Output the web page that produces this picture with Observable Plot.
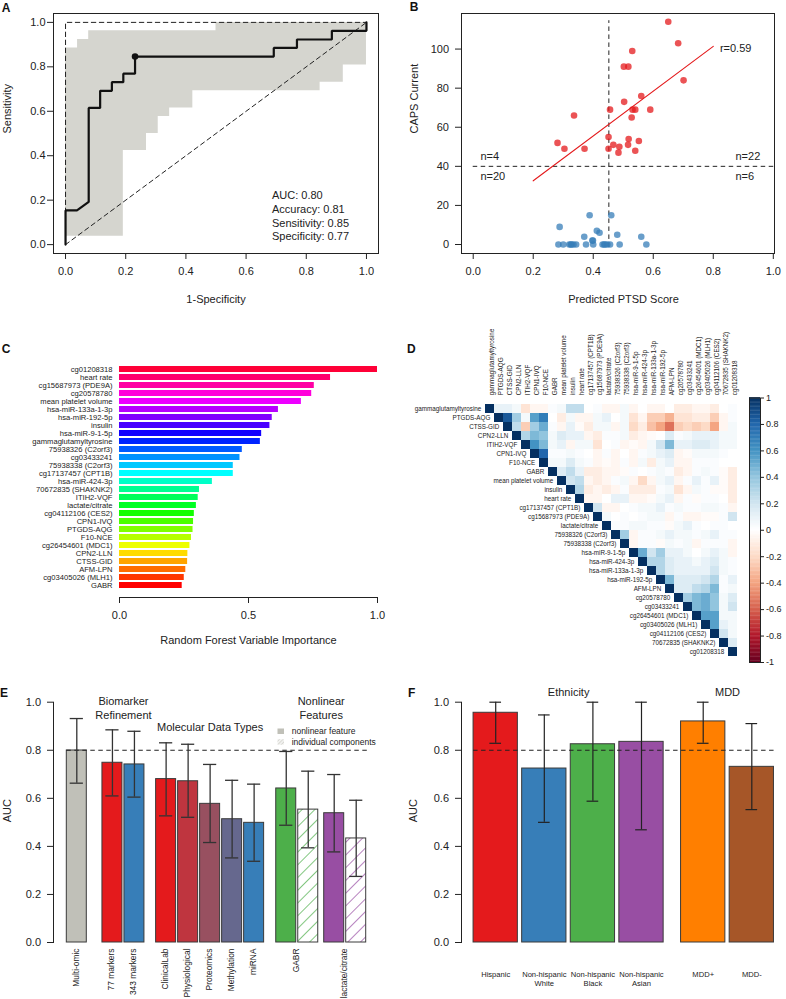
<!DOCTYPE html>
<html><head><meta charset="utf-8">
<script src="https://cdn.jsdelivr.net/npm/d3@7"></script>
<script src="https://cdn.jsdelivr.net/npm/@observablehq/plot@0.6"></script>
<style>
body{margin:0;background:#fff;}
#root{position:relative;width:786px;height:999px;overflow:hidden;background:#fff;}
</style></head><body><div id="root"></div>
<script>
// ---------------- DATA ----------------
// Panel A: ROC
const rocFpr = [0,0,0.038,0.077,0.077,0.115,0.115,0.154,0.154,0.192,0.192,0.231,0.231,0.692,0.692,0.769,0.769,0.885,0.885,1,1];
const rocTpr = [0,0.154,0.154,0.192,0.615,0.615,0.692,0.692,0.731,0.731,0.769,0.769,0.846,0.846,0.885,0.885,0.923,0.923,0.962,0.962,1];
const ciFpr  = [0,0.04,0.077,0.192,0.269,0.308,0.346,0.423,0.5,0.846,0.923,1];
const ciLow  = [0.038,0.038,0.038,0.423,0.5,0.577,0.615,0.692,0.692,0.731,0.808,0.808];
const ciHigh = [0.885,0.923,0.962,0.962,0.962,0.962,0.962,0.962,1,1,1,1];
const bestPoint = {fpr: 0.231, tpr: 0.846};
const idealX = [0,0,1], idealY = [0,1,1];
const chanceX = [0,1], chanceY = [0,1];
const rocStats = ["AUC: 0.80","Accuracy: 0.81","Sensitivity: 0.85","Specificity: 0.77"];

// Panel B: scatter
const redX = [0.65,0.683,0.53,0.502,0.517,0.701,0.56,0.503,0.456,0.531,0.54,0.59,0.336,0.528,0.451,0.518,0.552,0.281,0.467,0.516,0.487,0.304,0.371,0.451,0.484,0.54];
const redY = [114,103,99,91,91,84,76,73,69,69,69,69,66,65,55,54,53,52,51,51,50,49,49,49,47,48];
const blueX = [0.388,0.46,0.288,0.412,0.421,0.48,0.37,0.56,0.397,0.399,0.284,0.3,0.32,0.325,0.328,0.334,0.343,0.376,0.4,0.431,0.436,0.44,0.447,0.456,0.488,0.577];
const blueY = [15,15,9,7,6,5,4,4,2,2,0,0,0,0,0,0,0,0,0,0,0,0,0,0,0,0];
const fitX = [0.2,0.8], fitY = [32.6,101.4];
const scoreCut = 0.452, capsCut = 40;
const quadrantLabels = ["n=4","n=20","n=22","n=6"];

// Panel C: variable importance
const impNames = ["cg01208318","heart rate","cg15687973 (PDE9A)","cg20578780","mean platelet volume","hsa-miR-133a-1-3p","hsa-miR-192-5p","insulin","hsa-miR-9-1-5p","gammaglutamyltyrosine","75938326 (C2orf3)","cg03433241","75938338 (C2orf3)","cg17137457 (CPT1B)","hsa-miR-424-3p","70672835 (SHAKNK2)","ITIH2-VQF","lactate/citrate","cg04112106 (CES2)","CPN1-IVQ","PTGDS-AQG","F10-NCE","cg26454601 (MDC1)","CPN2-LLN","CTSS-GID","AFM-LPN","cg03405026 (MLH1)","GABR"];
const impValues = [1.0,0.818,0.755,0.745,0.705,0.616,0.592,0.583,0.551,0.546,0.476,0.467,0.441,0.441,0.36,0.31,0.305,0.298,0.29,0.287,0.285,0.279,0.273,0.265,0.264,0.257,0.251,0.243];

// Panel D: correlation matrix (upper triangle, row i -> columns i+1..)
const corrVars = ["gammaglutamyltyrosine","PTGDS-AQG","CTSS-GID","CPN2-LLN","ITIH2-VQF","CPN1-IVQ","F10-NCE","GABR","mean platelet volume","insulin","heart rate","cg17137457 (CPT1B)","cg15687973 (PDE9A)","lactate/citrate","75938326 (C2orf3)","75938338 (C2orf3)","hsa-miR-9-1-5p","hsa-miR-424-3p","hsa-miR-133a-1-3p","hsa-miR-192-5p","AFM-LPN","cg20578780","cg03433241","cg26454601 (MDC1)","cg03405026 (MLH1)","cg04112106 (CES2)","70672835 (SHAKNK2)","cg01208318"];
const corrUpper = [
 [0.1,0.1,0.05,-0.15,-0.05,-0.05,0.02,0.05,0.25,0.25,0,0.02,-0.05,-0.05,0.05,-0.05,0,-0.05,-0.05,0,-0.1,-0.1,-0.05,-0.05,-0.1,0,0.02],
 [0.85,0.35,0.05,0.55,0.7,0,-0.1,0.05,-0.05,-0.05,0.05,0.1,0,0.05,-0.15,-0.05,-0.25,-0.25,-0.35,-0.15,-0.15,-0.1,-0.1,-0.25,-0.05,0.02],
 [0.25,-0.25,0.35,0.5,0.02,-0.05,0.1,-0.02,-0.1,0.05,0.05,-0.05,0.05,-0.2,-0.1,-0.3,-0.4,-0.55,-0.25,-0.2,-0.25,-0.2,-0.4,-0.05,0.05],
 [0.3,0.45,0.4,0.05,0.15,0.1,0.1,-0.05,-0.1,0.02,0.02,0.05,-0.1,-0.05,-0.02,0,0.15,0.02,0.05,0.1,0.1,0.1,0.05,0.05],
 [0.6,0.45,0.05,0.1,-0.05,0.05,0.05,-0.15,0,0.02,-0.05,-0.02,-0.05,0.05,0.2,0.45,0.1,0.1,0.15,0.15,0.1,0.05,0.05],
 [0.8,0.02,0.02,0.05,0.02,0,-0.05,0.02,-0.05,0,-0.05,0.02,0.05,0.1,0.15,-0.05,-0.02,0.05,0.05,0.05,0.02,0],
 [0.05,0.05,0.15,0.05,0.02,-0.05,-0.02,-0.05,0.02,-0.05,0.05,-0.1,0.05,0.1,-0.05,-0.05,0.02,0.02,0.02,0,0],
 [0.15,0.25,0.1,-0.1,-0.1,-0.05,-0.05,-0.02,0.02,0,0.02,0.05,0.02,-0.1,-0.05,0.02,0.05,0.02,-0.02,-0.1],
 [0.2,0.25,-0.05,-0.1,-0.05,0.02,0.05,-0.05,-0.2,-0.05,0.05,0.1,-0.05,0.02,0.1,0.02,0.1,-0.02,-0.1],
 [0.3,-0.1,-0.05,-0.1,-0.05,0.02,-0.1,-0.1,-0.1,0.02,0.05,-0.15,-0.05,0.05,0.02,-0.02,-0.02,-0.1],
 [-0.05,-0.05,0,0.1,0.1,-0.05,-0.05,-0.02,0.05,0.1,-0.05,0.02,-0.02,0.02,0.02,0,-0.1],
 [0.2,-0.05,-0.05,0,0.02,0.05,0.05,0.1,0.02,0.05,0.02,0.02,0.05,0.05,0.02,-0.05],
 [0.05,0,0.02,0,0.02,0.05,0.05,-0.05,0.02,-0.05,-0.05,-0.02,-0.02,0.02,0.2],
 [0.02,0.02,0.05,0.05,0.02,0.02,-0.02,0.05,0.1,0.02,0,0.02,0.02,0],
 [0.35,-0.05,0.02,0.02,0.05,0.1,0.05,0.05,0.02,0.05,0.1,0.02,0.02],
 [-0.05,0.02,0.02,-0.02,0.05,0.02,0.05,-0.05,0.02,0.02,0.02,-0.05],
 [0.5,0.2,0.35,0.1,0.1,0.05,0,0.05,0.1,0.05,-0.05],
 [0.3,0.3,0.15,0.1,0.1,0.05,0.1,0.15,0.05,0.02],
 [0.3,0.15,0.1,0.1,0.1,0.1,0.2,0.05,0.02],
 [0.45,0.15,0.15,0.15,0.2,0.3,0.02,0.1],
 [0.15,0.15,0.25,0.3,0.45,0.02,0.05],
 [0.35,0.45,0.5,0.4,0.05,0.15],
 [0.45,0.5,0.4,0.05,0.2],
 [0.55,0.55,0.05,0.05],
 [0.55,0.1,0.05],
 [0.2,0.05],
 [0.15]
];
const corrTicks = [-1,-0.8,-0.6,-0.4,-0.2,0,0.2,0.4,0.6,0.8,1];
const corrPalette = ["#67001F","#B2182B","#D6604D","#F4A582","#FDDBC7","#FFFFFF","#D1E5F0","#92C5DE","#4393C3","#2166AC","#053061"];

// Panel E
const eNames = ["Multi-omic","77 markers","343 markers","ClinicalLab","Physiological","Proteomics","Methylation","miRNA","GABR","GABR components","lactate/citrate","lactate/citrate components"];
const eAUC  = [0.799,0.748,0.741,0.680,0.671,0.577,0.513,0.498,0.641,0.553,0.538,0.433];
const eLow  = [0.663,0.610,0.605,0.527,0.521,0.416,0.352,0.338,0.488,0.394,0.377,0.275];
const eHigh = [0.932,0.885,0.879,0.831,0.825,0.741,0.675,0.659,0.795,0.713,0.699,0.592];
const eGroup = [0,1,1,2,2,2,2,2,3,3,4,4];
const eHatched = [false,false,false,false,false,false,false,false,false,true,false,true];
const eTickLabels = ["Multi-omic","77 markers","343 markers","ClinicalLab","Physiological","Proteomics","Methylation","miRNA","GABR","lactate/citrate"];
const eTickBars = [[0],[1],[2],[3],[4],[5],[6],[7],[8,9],[10,11]];
const eHeaders = [["Biomarker","Refinement"],["Molecular Data Types"],["Nonlinear","Features"]];
const eHeaderBars = [[1,2],[3,4,5,6,7],[8,9,10,11]];
const eLegend = ["nonlinear feature","individual components"];
const refAUC = 0.8;

// Panel F
const fNames = ["Hispanic","Non-hispanic\nWhite","Non-hispanic\nBlack","Non-hispanic\nAsian","MDD+","MDD-"];
const fAUC  = [0.956,0.724,0.825,0.835,0.920,0.731];
const fLow  = [0.829,0.500,0.588,0.469,0.829,0.553];
const fHigh = [1.0,0.947,1.0,1.0,1.0,0.911];
const fGroup = [0,0,0,0,1,1];
const fHeaders = ["Ethnicity","MDD"];
const fHeaderBars = [[0,1,2,3],[4,5]];
const axisTicks01 = [0,0.2,0.4,0.6,0.8,1];

// ---------------- STYLE / LAYOUT ----------------
const FONT = '"Liberation Sans", Arial, Helvetica, sans-serif';
const INK = "#222";
const root = document.getElementById("root");
const baseStyle = {background: "transparent", fontFamily: FONT, fontSize: "11px", color: INK, overflow: "visible"};
const f1 = d3.format(".1f");
function place(svg, left, top) {
  svg.style.position = "absolute";
  svg.style.left = left + "px";
  svg.style.top = top + "px";
  svg.style.maxWidth = "none";
  root.appendChild(svg);
}
const dash = "4.5,3.5";

// ---------------- PANEL A ----------------
const rocTable = rocFpr.map((x, i) => ({x, y: rocTpr[i]}));
const ciTable = ciFpr.map((x, i) => ({x, lo: ciLow[i], hi: ciHigh[i]}));
const idealTable = idealX.map((x, i) => ({x, y: idealY[i]}));
const chanceTable = chanceX.map((x, i) => ({x, y: chanceY[i]}));
const plotA = Plot.plot({
  width: 393, height: 320, marginLeft: 53, marginRight: 15, marginTop: 13, marginBottom: 67,
  x: {domain: [-0.04, 1.04]}, y: {domain: [-0.04, 1.04]},
  style: baseStyle,
  marks: [
    Plot.areaY(ciTable, {x: "x", y1: "lo", y2: "hi", curve: "step-after", fill: "#D5D5CF"}),
    Plot.line(idealTable, {x: "x", y: "y", stroke: INK, strokeWidth: 1, strokeDasharray: dash}),
    Plot.line(chanceTable, {x: "x", y: "y", stroke: INK, strokeWidth: 1, strokeDasharray: dash}),
    Plot.line(rocTable, {x: "x", y: "y", stroke: "#111", strokeWidth: 2.2, strokeLinejoin: "miter"}),
    Plot.dot([bestPoint], {x: "fpr", y: "tpr", r: 3.3, fill: "#111", stroke: null}),
    Plot.text([rocStats.join("\n")], {x: 0.686, y: 0.133, textAnchor: "start", lineAnchor: "middle", lineHeight: 1.27, fontSize: 11, fill: INK}),
    Plot.frame({stroke: INK}),
    Plot.axisX({ticks: axisTicks01, tickFormat: f1, tickSize: 6, tickPadding: 8, label: null}),
    Plot.axisY({ticks: axisTicks01, tickFormat: f1, tickSize: 6, tickPadding: 2, label: null}),
    Plot.text(["1-Specificity"], {frameAnchor: "bottom", dy: 49, fontSize: 11, fill: INK}),
    Plot.text(["Sensitivity"], {frameAnchor: "left", dx: -46, rotate: -90, fontSize: 11, fill: INK})
  ]
});
place(plotA, 0, 0);

// ---------------- PANEL B ----------------
const redTable = redX.map((x, i) => ({x, y: redY[i]}));
const blueTable = blueX.map((x, i) => ({x, y: blueY[i]}));
const fitTable = fitX.map((x, i) => ({x, y: fitY[i]}));
const plotB = Plot.plot({
  width: 393, height: 320, marginLeft: 68, marginRight: 12, marginTop: 13, marginBottom: 67,
  x: {domain: [-0.039, 1.004]}, y: {domain: [-4.6, 118.2]},
  style: baseStyle,
  marks: [
    Plot.ruleY([capsCut], {x1: 0, x2: 1.004, stroke: INK, strokeDasharray: dash}),
    Plot.ruleX([scoreCut], {y1: -1.5, y2: 114.5, stroke: INK, strokeDasharray: dash}),
    Plot.dot(blueTable, {x: "x", y: "y", r: 3.3, fill: "#377EB8", fillOpacity: 0.75, stroke: null}),
    Plot.dot(redTable, {x: "x", y: "y", r: 3.3, fill: "#E41A1C", fillOpacity: 0.75, stroke: null}),
    Plot.line(fitTable, {x: "x", y: "y", stroke: "#E41A1C", strokeWidth: 1.1}),
    Plot.text(["r=0.59"], {x: 0.822, y: 100.5, textAnchor: "start", fill: INK}),
    Plot.text([quadrantLabels[0]], {x: 0.024, y: 45, textAnchor: "start", fill: INK}),
    Plot.text([quadrantLabels[1]], {x: 0.024, y: 34.9, textAnchor: "start", fill: INK}),
    Plot.text([quadrantLabels[2]], {x: 0.874, y: 45, textAnchor: "start", fill: INK}),
    Plot.text([quadrantLabels[3]], {x: 0.874, y: 34.9, textAnchor: "start", fill: INK}),
    Plot.frame({stroke: INK}),
    Plot.axisX({ticks: axisTicks01, tickFormat: f1, tickSize: 6, tickPadding: 8, label: null}),
    Plot.axisY({ticks: [0,20,40,60,80,100], tickSize: 6, tickPadding: 6.5, label: null}),
    Plot.text(["Predicted PTSD Score"], {frameAnchor: "bottom", dy: 49, dx: 5.5, fontSize: 11, fill: INK}),
    Plot.text(["CAPS Current"], {frameAnchor: "left", dx: -47.3, rotate: -90, fontSize: 11, fill: INK})
  ]
});
place(plotB, 393, 0);

// ---------------- PANEL C ----------------
const nImp = impNames.length;
const impTable = impNames.map((name, i) => ({name, v: impValues[i], color: d3.hsl(((nImp - 1 - i) / nImp) * 360, 1, 0.5).formatHex()}));
const plotC = Plot.plot({
  width: 393, height: 310, marginLeft: 119, marginRight: 16, marginTop: 35, marginBottom: 43,
  x: {domain: [0, 1]},
  y: {domain: impNames, range: [35, 259], paddingInner: 0.27, paddingOuter: 0.135},
  color: {type: "identity"},
  style: baseStyle,
  marks: [
    Plot.barX(impTable, {x: "v", y: "name", fill: "color"}),
    Plot.frame({anchor: "bottom", stroke: INK}),
    Plot.axisX({ticks: [0, 0.5, 1], tickFormat: f1, tickSize: 6, tickPadding: 8, label: null}),
    Plot.axisY({tickSize: 0, tickPadding: 7, fontSize: 7.6, label: null}),
    Plot.text(["Random Forest Variable Importance"], {frameAnchor: "bottom", dy: 46, fontSize: 11, fill: INK})
  ]
});
place(plotC, 0, 330);

// ---------------- PANEL D ----------------
const cells = [];
corrVars.forEach((rv, i) => {
  cells.push({row: rv, col: rv, v: 1});
  if (i < corrUpper.length) corrUpper[i].forEach((v, k) => cells.push({row: rv, col: corrVars[i + 1 + k], v}));
});
const corrColor = {type: "linear", domain: corrTicks, range: corrPalette, interpolate: "rgb"};
const plotD = Plot.plot({
  width: 393, height: 340, marginLeft: 86, marginRight: 43, marginTop: 67.7, marginBottom: 8.3,
  x: {domain: corrVars, padding: 0, axis: null},
  y: {domain: corrVars, padding: 0, axis: null},
  color: corrColor,
  style: baseStyle,
  marks: [
    Plot.cell(cells, {x: "col", y: "row", fill: "v", inset: 0}),
    Plot.text(corrVars, {x: d => d, y: d => d, text: d => d, textAnchor: "end", dx: -8.7, fontSize: 6.3, fill: INK}),
    Plot.text(corrVars, {x: d => d, frameAnchor: "top", text: d => d, rotate: -90, textAnchor: "start", dy: -3, fontSize: 6.3, fill: INK})
  ]
});
place(plotD, 393, 330);

// colour bar
const barSteps = d3.range(-1, 1, 0.01);
const plotBar = Plot.plot({
  width: 40, height: 268, marginLeft: 0, marginRight: 29, marginTop: 1.5, marginBottom: 2,
  x: {domain: [0, 1], axis: null}, y: {domain: [-1, 1]},
  color: corrColor,
  style: baseStyle,
  marks: [
    Plot.rect(barSteps, {x1: 0, x2: 1, y1: d => d, y2: d => d + 0.0125, fill: d => d + 0.005, inset: 0}),
    Plot.frame({stroke: INK}),
    Plot.axisY({anchor: "right", ticks: corrTicks, tickFormat: d => String(+d.toFixed(1)), tickSize: 3, tickPadding: 2.5, fontSize: 9, label: null})
  ]
});
place(plotBar, 749, 396);

// ---------------- PANEL E ----------------
const eGap = [0, 0.62, 0.44, 0.46, 0.18];
const ePos = [];
eNames.forEach((n, i) => { ePos.push(i === 0 ? 0 : ePos[i - 1] + 1 + (eGroup[i] !== eGroup[i - 1] ? eGap[eGroup[i]] : 0)); });
const eColors = ["#C0C0B8","#E41A1C","#377EB8","#E41A1C","#BF353F","#985060","#66688E","#377EB8","#4DAF4A","#4DAF4A","#984EA3","#984EA3"];
const eHalf = 10 / 22, eCap = 0.3;
const eTable = eNames.map((name, i) => ({name, v: eAUC[i], lo: eLow[i], hi: eHigh[i], pos: ePos[i],
  fill: eHatched[i] ? `url(#hatchE${i})` : eColors[i]}));
const mean = idx => d3.mean(idx, j => ePos[j]);
const eTicks = eTickLabels.map((t, i) => ({t, pos: mean(eTickBars[i])}));
const eHead = eHeaders.map((lines, i) => ({lines, pos: mean(eHeaderBars[i])}));
const eHeadLines = eHead.flatMap(h => h.lines.map((t, k) => ({t, pos: h.pos, k, n: h.lines.length})));
const plotE = Plot.plot({
  width: 393, height: 359, marginLeft: 53, marginRight: 16, marginTop: 61.7, marginBottom: 57,
  x: {domain: [-1.059, 13.668], axis: null}, y: {domain: [0, 1]},
  color: {type: "identity"},
  style: baseStyle,
  marks: [
    Plot.rect(eTable, {x1: d => d.pos - eHalf, x2: d => d.pos + eHalf, y1: 0, y2: "v", fill: "fill", stroke: "#3a3a3a", strokeWidth: 1}),
    Plot.ruleY([refAUC], {x1: ePos[0] - eHalf, x2: ePos[ePos.length - 1] + 0.65, stroke: INK, strokeDasharray: dash}),
    Plot.ruleX(eTable, {x: "pos", y1: "lo", y2: "hi", stroke: "#333", strokeWidth: 1.3}),
    Plot.ruleY(eTable, {y: "lo", x1: d => d.pos - eCap, x2: d => d.pos + eCap, stroke: "#333", strokeWidth: 1.3}),
    Plot.ruleY(eTable, {y: "hi", x1: d => d.pos - eCap, x2: d => d.pos + eCap, stroke: "#333", strokeWidth: 1.3}),
    Plot.frame({anchor: "left", stroke: INK}),
    Plot.axisY({ticks: axisTicks01, tickFormat: f1, tickSize: 6, tickPadding: 6.5, label: null}),
    Plot.text(eTicks, {x: "pos", text: "t", frameAnchor: "bottom", rotate: -90, textAnchor: "end", dy: 6, dx: 2, fontSize: 8.4, fill: INK}),
    Plot.text(eHeadLines.filter(d => d.k === 0 && d.n === 2), {x: "pos", text: "t", frameAnchor: "top", dy: -4.7, fontSize: 11, fill: INK}),
    Plot.text(eHeadLines.filter(d => d.k === 1), {x: "pos", text: "t", frameAnchor: "top", dy: 9.3, fontSize: 11, fill: INK}),
    Plot.text(eHeadLines.filter(d => d.n === 1), {x: "pos", text: "t", frameAnchor: "top", dy: 21.3, fontSize: 11, fill: INK}),
    Plot.text(["AUC"], {frameAnchor: "left", dx: -46.3, rotate: -90, fontSize: 11, fill: INK})
  ]
});
{
  const defs = d3.select(plotE).insert("defs", ":first-child");
  eHatched.forEach((h, i) => {
    if (!h) return;
    const p = defs.append("pattern").attr("id", "hatchE" + i).attr("patternUnits", "userSpaceOnUse")
      .attr("width", 9).attr("height", 9).attr("patternTransform", "rotate(45)");
    p.append("rect").attr("width", 9).attr("height", 9).attr("fill", "white");
    p.append("line").attr("x1", 0).attr("y1", -1).attr("x2", 0).attr("y2", 10).attr("stroke", eColors[i]).attr("stroke-width", 1.4);
  });
}
place(plotE, 0, 640);

// ---------------- PANEL F ----------------
const fGap = [0, 0.27];
const fPos = [];
fNames.forEach((n, i) => { fPos.push(i === 0 ? 0 : fPos[i - 1] + 1 + (fGroup[i] !== fGroup[i - 1] ? fGap[fGroup[i]] : 0)); });
const fColors = ["#E41A1C","#377EB8","#4DAF4A","#984EA3","#FF7F00","#A65628"];
const fHalf = 22.15 / 48.6, fCap = 0.12;
const fTable = fNames.map((name, i) => ({name, v: fAUC[i], lo: fLow[i], hi: fHigh[i], pos: fPos[i], fill: fColors[i]}));
const fHead = fHeaders.map((t, i) => ({t, pos: d3.mean(fHeaderBars[i], j => fPos[j])}));
const plotF = Plot.plot({
  width: 393, height: 359, marginLeft: 68, marginRight: 12, marginTop: 61.7, marginBottom: 57,
  x: {domain: [-0.704, 5.737], axis: null}, y: {domain: [0, 1]},
  color: {type: "identity"},
  style: baseStyle,
  marks: [
    Plot.rect(fTable, {x1: d => d.pos - fHalf, x2: d => d.pos + fHalf, y1: 0, y2: "v", fill: "fill", stroke: "#3a3a3a", strokeWidth: 1}),
    Plot.ruleY([refAUC], {x1: fPos[0] - fHalf, x2: 5.737, stroke: INK, strokeDasharray: dash}),
    Plot.ruleX(fTable, {x: "pos", y1: "lo", y2: "hi", stroke: "#222", strokeWidth: 1.2}),
    Plot.ruleY(fTable, {y: "lo", x1: d => d.pos - fCap, x2: d => d.pos + fCap, stroke: "#222", strokeWidth: 1.2}),
    Plot.ruleY(fTable, {y: "hi", x1: d => d.pos - fCap, x2: d => d.pos + fCap, stroke: "#222", strokeWidth: 1.2}),
    Plot.frame({anchor: "left", stroke: INK}),
    Plot.axisY({ticks: axisTicks01, tickFormat: f1, tickSize: 6, tickPadding: 6.5, label: null}),
    Plot.text(fTable, {x: "pos", text: "name", frameAnchor: "bottom", lineAnchor: "top", dy: 28, lineHeight: 1.18, fontSize: 7.6, fill: INK}),
    Plot.text(fHead, {x: "pos", text: "t", frameAnchor: "top", dy: -13.7, fontSize: 11, fill: INK}),
    Plot.text(["AUC"], {frameAnchor: "left", dx: -48, rotate: -90, fontSize: 11, fill: INK})
  ]
});
place(plotF, 393, 640);

// ---------------- OVERLAY: panel letters + legend ----------------
const ov = d3.select(root).append("svg").attr("width", 786).attr("height", 999)
  .style("position", "absolute").style("left", "0px").style("top", "0px").style("pointer-events", "none")
  .style("font-family", FONT);
const letters = [["A", 1.7, 11.7], ["B", 409.7, 10.7], ["C", 1.7, 353.3], ["D", 407, 352.7], ["E", 0, 697.3], ["F", 408, 697.3]];
ov.selectAll("text.letter").data(letters).join("text").attr("class", "letter")
  .attr("x", d => d[1]).attr("y", d => d[2]).text(d => d[0])
  .attr("font-size", 12).attr("font-weight", "bold").attr("fill", "#111");
const lp = ov.append("defs").append("pattern").attr("id", "hatchLegend").attr("patternUnits", "userSpaceOnUse")
  .attr("width", 2.5).attr("height", 2.5).attr("patternTransform", "rotate(45)");
lp.append("rect").attr("width", 2.5).attr("height", 2.5).attr("fill", "#f2f2f0");
lp.append("line").attr("x1", 0).attr("y1", 0).attr("x2", 0).attr("y2", 2.5).attr("stroke", "#c4c4bc").attr("stroke-width", 1);
ov.append("rect").attr("x", 277.5).attr("y", 728.5).attr("width", 6.5).attr("height", 5.5).attr("fill", "#C0C0B8");
ov.append("rect").attr("x", 277.5).attr("y", 739.2).attr("width", 6.5).attr("height", 5.5).attr("fill", "url(#hatchLegend)");
ov.selectAll("text.leg").data(eLegend).join("text").attr("class", "leg")
  .attr("x", 291.7).attr("y", (d, i) => 731.5 + i * 10.5).attr("dy", "0.35em")
  .attr("font-size", 8.5).attr("fill", INK).text(d => d);
</script>
</body></html>
